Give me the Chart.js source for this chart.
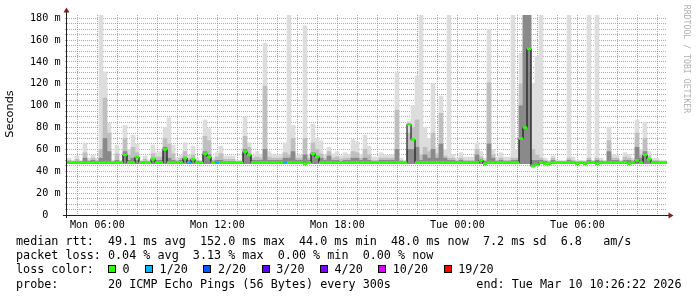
<!DOCTYPE html>
<html>
<head>
<meta charset="utf-8">
<script src="https://cdn.jsdelivr.net/npm/chart.js@4.4.1/dist/chart.umd.min.js"></script>
<style>
  html, body { margin: 0; padding: 0; background: #fff; }
  #wrap { position: relative; width: 697px; height: 297px; overflow: hidden; background: #fff; }
  canvas { position: absolute; left: 0; top: 0; }
  .row {
    position: absolute; left: 16px; height: 14px; line-height: 14px;
    font-family: "DejaVu Sans Mono", monospace; font-size: 11.75px;
    white-space: pre; color: #000;
  }
  .end { left: auto; right: 15.5px; }
  #lossRow { display: flex; align-items: center; }
  .sw { display: inline-block; box-sizing: border-box; width: 8px; height: 8px; border: 1px solid #000; margin-left: 15.5px; margin-right: 6.5px; }
  .sw.first { margin-left: 14.2px; }
  .vlabel {
    position: absolute; left: -20px; top: 106.5px; width: 60px; height: 14px; line-height: 14px;
    text-align: center; font-family: "DejaVu Sans", sans-serif; font-size: 11.3px; color: #000;
    transform: rotate(-90deg); white-space: pre;
  }
  .mark {
    position: absolute; left: 627px; top: 53.5px; width: 120px; height: 10px; line-height: 10px;
    text-align: center; font-family: "DejaVu Sans Mono", monospace; font-size: 8.2px; color: #b0b0b0;
    transform: rotate(90deg); white-space: pre;
  }
</style>
</head>
<body>
<div id="wrap">
  <canvas id="chart" width="697" height="297"></canvas>
  <div class="vlabel">Seconds</div>
  <div class="mark">RRDTOOL / TOBI OETIKER</div>
  <div class="row" style="top:234.3px">median rtt:  49.1 ms avg  152.0 ms max  44.0 ms min  48.0 ms now  7.2 ms sd  6.8   am/s</div>
  <div class="row" style="top:248.3px">packet loss: 0.04 % avg  3.13 % max  0.00 % min  0.00 % now</div>
  <div class="row" id="lossRow" style="top:261.7px">loss color:</div>
  <div class="row" style="top:276.7px">probe:       20 ICMP Echo Pings (56 Bytes) every 300s</div>
  <div class="row end" style="top:276.7px">end: Tue Mar 10 10:26:22 2026</div>
</div>
<script>
// 150 slots of 12 minutes, Mon 04:29 -> Tue 10:29 (hours since Mon 00:00)
const START_HOUR = 4.4833;
const SLOT_HOURS = 0.2;

// median rtt per slot (ms)
const medianRtt = [
  48,48,48,48,48,48,48,48,48,48, 48,48,48,48,55,48,48,53,48,48,
  48,51,48,48,60,48,48,48,48,52, 48,51,48,48,56,53,48,48,48,48,
  48,48,48,48,58,55,48,48,48,48, 48,48,48,48,48,48,48,48,48,47,
  48,56,53,48,48,48,48,48,48,48, 48,48,48,48,48,48,48,48,48,48,
  48,48,48,48,48,83,69,48,48,48, 48,48,48,48,48,48,48,48,48,48,
  48,48,48,50,47,48,48,48,48,48, 48,48,48,70,80,152,45,46,48,47,
  47,48,48,48,48,48,48,47,48,47, 48,48,47,48,48,48,48,48,48,48,
  47,48,50,48,55,51,48,48,48,48,
];

// lowest ping per slot (ms)
const minRtt = [
  47,47,47,47,47,47,47,47,47,47, 47,47,47,47,47,47,47,47,47,47,
  47,47,47,47,47,47,47,47,47,47, 47,47,47,47,47,47,47,47,47,47,
  47,47,47,47,47,47,47,47,47,47, 47,47,47,47,47,47,47,47,47,47,
  47,47,47,47,47,47,47,47,47,47, 47,47,47,47,47,47,47,47,47,47,
  47,47,47,47,47,47,47,47,47,47, 47,47,47,47,47,47,47,47,47,47,
  47,47,47,47,47,47,47,47,47,47, 47,47,47,47,47,47,44,45,47,47,
  47,47,47,47,47,47,47,47,47,47, 47,47,47,47,47,47,47,47,47,47,
  47,47,47,47,47,47,47,47,47,47,
];

// highest ping per slot (ms), light smoke
const smokeMax = [
  52,50,54,50,66,52,55,52,183,131, 84,50,64,50,82,60,73,65,50,54,
  50,64,57,58,80,89,64,52,55,66, 55,63,52,50,87,79,52,57,63,54,
  54,54,50,50,90,66,55,58,55,157, 58,55,55,55,66,183,82,55,55,173,
  55,83,70,68,55,62,56,58,54,57, 55,69,67,55,73,63,53,53,57,55,
  55,55,131,52,50,86,100,127,183,80, 70,120,62,109,60,183,55,52,57,53,
  53,53,66,58,52,170,60,53,57,53, 53,183,60,148,183,183,120,145,183,52,
  50,54,50,50,50,183,53,50,50,50, 183,50,183,52,50,80,55,55,50,57,
  55,52,87,60,85,58,52,52,50,50,
];

// outer quartile of pings (ms), medium smoke
const smokeMid = [
  50,49,51,49,57,50,52,50,60,107, 75,49,56,49,70,55,62,57,49,51,
  49,56,53,53,70,65,56,50,52,58, 52,55,50,49,72,68,50,53,56,51,
  51,51,49,49,72,62,52,53,52,118, 53,52,52,52,57,55,70,52,52,70,
  52,66,60,56,52,58,52,53,51,52, 52,58,57,52,60,55,50,50,52,52,
  52,52,96,50,49,75,80,87,55,62, 58,75,56,93,54,52,52,50,52,50,
  50,50,60,53,50,121,55,50,52,50, 50,52,52,120,183,183,60,55,52,50,
  49,52,49,49,49,52,50,49,49,49, 52,49,52,50,49,68,52,52,49,53,
  52,50,75,55,70,54,50,50,49,49,
];

// inner pings (ms), dark smoke
const smokeDark = [
  49,48,49,48,52,49,50,49,52,70, 58,48,50,48,58,50,52,50,48,49,
  48,52,50,50,62,52,50,49,50,52, 50,50,49,48,58,55,49,50,50,49,
  49,49,48,48,60,55,50,50,50,60, 50,50,50,50,52,52,58,50,50,55,
  50,57,54,52,50,54,50,50,49,50, 50,52,52,50,52,50,49,49,50,50,
  50,50,60,49,48,60,60,62,50,55, 52,60,52,65,52,50,50,49,50,49,
  49,49,55,50,49,65,52,49,50,49, 49,50,50,100,183,183,50,50,50,49,
  48,50,48,48,48,50,49,48,48,48, 50,48,50,49,48,58,50,50,48,50,
  50,49,62,52,58,51,49,49,48,48,
];

// packet loss bucket per slot (index into lossLabels)
const lossBucket = [
  0,0,0,0,0,0,0,0,0,0, 0,0,0,0,0,0,0,0,0,0,
  0,0,0,0,0,0,0,0,0,0, 1,0,0,0,0,0,0,1,0,0,
  0,0,0,0,0,0,0,0,0,0, 0,0,0,0,1,0,0,0,0,0,
  0,0,0,0,0,0,0,0,0,0, 0,0,0,0,0,0,0,0,0,0,
  0,0,0,0,0,0,0,0,0,0, 0,0,0,0,0,0,0,0,0,0,
  0,0,0,0,0,0,0,0,0,0, 0,0,0,0,0,0,0,0,0,0,
  0,0,0,0,0,0,0,0,0,0, 0,0,0,0,0,0,0,0,0,0,
  0,0,0,0,0,0,0,0,0,0,
];

const lossLabels = ["0", "1/20", "2/20", "3/20", "4/20", "10/20", "19/20"];
const lossColors = ["#26ff00", "#00b8ff", "#0059ff", "#5e00ff", "#7e00ff", "#dd00ff", "#ff0000"];

const hourTicks = [5,6,7,8,9,10,11,12,13,14,15,16,17,18,19,20,21,22,23,24,25,26,27,28,29,30,31,32,33,34];
const xLabelHours = [6, 12, 18, 24, 30];
const xLabelText = ["Mon 06:00", "Mon 12:00", "Mon 18:00", "Tue 00:00", "Tue 06:00"];
const yGridValues = [0,5,10,15,20,25,30,35,40,45,50,55,60,65,70,75,80,85,90,95,100,
  105,110,115,120,125,130,135,140,145,150,155,160,165,170,175,180];

const MAJOR_GRID = "rgba(222,79,79,0.6)";
const MINOR_GRID = "rgba(143,143,143,0.75)";
const FONT = "'DejaVu Sans Mono', monospace";
const AXIS_FONT = { family: FONT, size: 10.15 };

// legend swatches
const lossRow = document.getElementById("lossRow");
lossLabels.forEach((label, i) => {
  const sw = document.createElement("span");
  sw.className = i === 0 ? "sw first" : "sw";
  sw.style.background = lossColors[i];
  const txt = document.createElement("span");
  txt.textContent = label;
  lossRow.appendChild(sw);
  lossRow.appendChild(txt);
});

const slotX = (i) => START_HOUR + (i + 0.5) * SLOT_HOURS;

function smokeLayer(tops, color, order) {
  return {
    type: "bar",
    data: tops.map((v, i) => ({ x: slotX(i), y: [minRtt[i], v] })),
    backgroundColor: color,
    borderWidth: 0,
    grouped: false,
    barPercentage: 1,
    categoryPercentage: 1,
    order,
  };
}

const axisArrows = {
  id: "axisArrows",
  afterDraw(chart) {
    const { ctx, chartArea: a } = chart;
    ctx.save();
    ctx.strokeStyle = "#1f1f1f";
    ctx.lineWidth = 1;
    ctx.beginPath();
    ctx.moveTo(a.left - 4, a.bottom + 0.5);
    ctx.lineTo(a.right + 2, a.bottom + 0.5);
    ctx.moveTo(a.left - 0.5, a.bottom + 3);
    ctx.lineTo(a.left - 0.5, a.top - 3);
    ctx.stroke();
    ctx.fillStyle = "#801f1f";
    ctx.beginPath();
    ctx.moveTo(a.left - 0.5, a.top - 7.5);
    ctx.lineTo(a.left - 3.5, a.top - 2.5);
    ctx.lineTo(a.left + 2.5, a.top - 2.5);
    ctx.closePath();
    ctx.fill();
    ctx.beginPath();
    ctx.moveTo(a.right + 6.5, a.bottom + 0.5);
    ctx.lineTo(a.right + 1.5, a.bottom - 2.5);
    ctx.lineTo(a.right + 1.5, a.bottom + 3.5);
    ctx.closePath();
    ctx.fill();
    ctx.restore();
  },
};

new Chart(document.getElementById("chart"), {
  type: "bar",
  data: {
    datasets: [
      {
        type: "line",
        data: medianRtt.map((v, i) => ({ x: slotX(i), y: v })),
        stepped: "middle",
        borderColor: "#000",
        borderWidth: 1,
        pointStyle: "line",
        pointRadius: 2,
        pointBorderWidth: 2.6,
        pointBorderColor: lossBucket.map((b) => lossColors[b]),
        pointBackgroundColor: lossBucket.map((b) => lossColors[b]),
        order: 0,
      },
      smokeLayer(smokeDark, "#8a8a8a", 1),
      smokeLayer(smokeMid, "#bfbfbf", 2),
      smokeLayer(smokeMax, "#dddddd", 3),
    ],
  },
  options: {
    responsive: false,
    animation: false,
    devicePixelRatio: 1,
    events: [],
    layout: { padding: { top: 15, right: 30, bottom: 0, left: 0 } },
    plugins: { legend: { display: false }, tooltip: { enabled: false } },
    scales: {
      x: {
        type: "linear",
        min: START_HOUR,
        max: START_HOUR + 30,
        offset: false,
        afterFit: (s) => { s.height = 82; },
        afterBuildTicks: (s) => { s.ticks = hourTicks.map((v) => ({ value: v })); },
        grid: {
          color: (c) => (c.tick.value % 3 === 0 ? MAJOR_GRID : MINOR_GRID),
          lineWidth: 1,
          drawTicks: false,
          offset: false,
        },
        border: { display: false, dash: [1, 1] },
        ticks: {
          autoSkip: false,
          maxRotation: 0,
          minRotation: 0,
          padding: 4,
          color: "#000",
          font: AXIS_FONT,
          callback: (v) => {
            const k = xLabelHours.indexOf(v);
            return k >= 0 ? xLabelText[k] : "";
          },
        },
      },
      y: {
        min: 0,
        max: 183,
        afterFit: (s) => { s.width = 67; },
        afterBuildTicks: (s) => { s.ticks = yGridValues.map((v) => ({ value: v })); },
        grid: {
          color: (c) => (c.tick.value % 20 === 0 ? MAJOR_GRID : MINOR_GRID),
          lineWidth: 1,
          tickLength: 2,
        },
        border: { display: false, dash: [1, 1] },
        ticks: {
          autoSkip: false,
          padding: 4.5,
          color: "#000",
          font: AXIS_FONT,
          callback: (v) => (v % 20 !== 0 ? "" : v === 0 ? "0  " : v + " m"),
        },
      },
    },
  },
  plugins: [axisArrows],
});
</script>
</body>
</html>
